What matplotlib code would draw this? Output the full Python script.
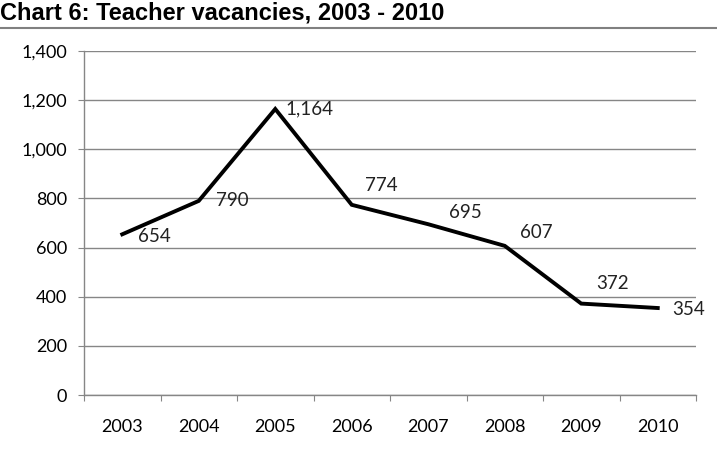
import numpy as np
import matplotlib
matplotlib.use("Agg")
import matplotlib.pyplot as plt
from matplotlib.lines import Line2D

years = ["2003", "2004", "2005", "2006", "2007", "2008", "2009", "2010"]
vacancies = [654, 790, 1164, 774, 695, 607, 372, 354]
y_ticks = [0, 200, 400, 600, 800, 1000, 1200, 1400]

# label offsets (pixels) relative to each point, as placed in the original
label_dx = [32, 34, 34, 30, 37, 32, 31, 31]
label_dy = [-2, 0, 0, 19, 12, 13, 20, -1]

plt.rcParams['font.family'] = ['Lato', 'DejaVu Sans']

fig = plt.figure(figsize=(7.17, 4.58), dpi=100)
ax = fig.add_axes([84/717, 63/458, 612/717, 344/458])

x = np.arange(len(years))
ax.plot(x, vacancies, color='black', lw=2.8, solid_joinstyle='miter')

for xi, v, dx, dy in zip(x, vacancies, label_dx, label_dy):
    ax.annotate(f"{v:,}", (xi, v), xytext=(dx * 0.72, dy * 0.72), textcoords='offset points',
                ha='center', va='center', fontsize=13.5, color='#222222')

ax.set_xlim(-0.5, len(years) - 0.5)
ax.set_ylim(0, 1400)
ax.set_yticks(y_ticks)
ax.set_yticklabels([f"{t:,}" for t in y_ticks])
ax.set_xticks(np.arange(len(years) + 1) - 0.5)
ax.set_xticklabels([])
ax.set_xticks(x, minor=True)
ax.set_xticklabels(years, minor=True)

ax.grid(axis='y', color='#868686', lw=1)
ax.set_axisbelow(True)
for s in ['top', 'right']:
    ax.spines[s].set_visible(False)
for s in ['left', 'bottom']:
    ax.spines[s].set_color('#868686')
    ax.spines[s].set_linewidth(1)

ax.tick_params(axis='y', which='major', length=4.3, color='#868686', pad=8, labelsize=13)
ax.tick_params(axis='x', which='major', length=4.3, color='#868686', direction='out')
ax.tick_params(axis='x', which='minor', length=0, pad=17, labelsize=13)

fig.text(0.0, 1 - 13/458, "Chart 6: Teacher vacancies, 2003 - 2010", family='Liberation Sans',
         fontweight='bold', fontsize=17, ha='left', va='center')
fig.add_artist(Line2D([0, 1], [1 - 28/458, 1 - 28/458], color='#808080', lw=1.5))

fig.savefig("out.png", dpi=100)
